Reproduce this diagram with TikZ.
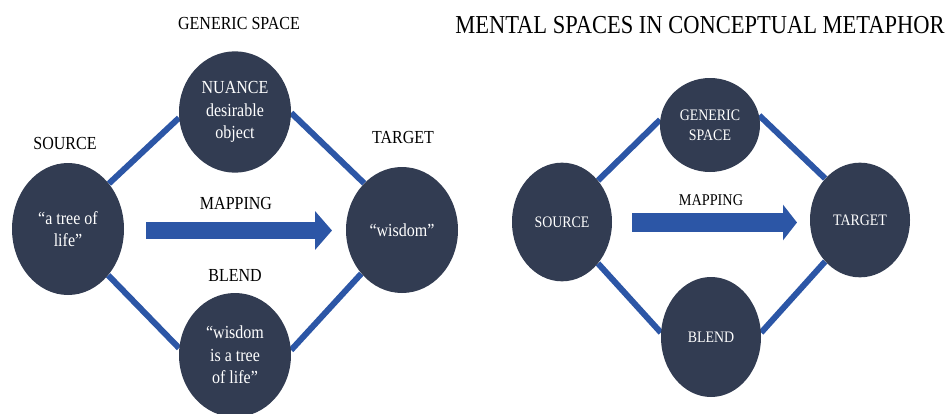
\documentclass[tikz,border=0pt]{standalone}
\usepackage{fontspec}
\setmainfont{Liberation Serif}
\newfontfamily\narrowserif[FakeStretch=0.87]{Liberation Serif}
\usetikzlibrary{shapes.geometric,arrows.meta,backgrounds}
\definecolor{spacefill}{RGB}{50,60,82}
\definecolor{linkblue}{RGB}{44,86,166}
\begin{document}
\begin{tikzpicture}[x=0.75pt,y=-0.75pt,
    space/.style={ellipse,fill=spacefill,text=white,inner sep=0pt,align=center},
    bigspace/.style={space,minimum width=84pt,font=\narrowserif\fontsize{13.8}{17}\selectfont},
    smallspace/.style={space,minimum width=75pt,font=\narrowserif\fontsize{12}{15}\selectfont},
    link/.style={draw=linkblue,line width=4.5pt},
    biglabel/.style={font=\narrowserif\fontsize{13.8}{14}\selectfont},
    smalllabel/.style={font=\narrowserif\fontsize{12.3}{13}\selectfont},
    mapping/.style={draw=linkblue,line width=#1}]
                \useasboundingbox (0,0) rectangle (951,414);
                % left: the worked example
                \node[bigspace,minimum height=99pt] (srcL) at (68,229) {“a tree of\\life”};
                \node[bigspace,minimum height=91pt] (genL) at (235,112) {NUANCE\\desirable\\object};
                \node[bigspace,minimum height=94.5pt] (tgtL) at (402,230) {“wisdom”};
                \node[bigspace,minimum height=93pt] (bldL) at (235,355) {“wisdom\\is a tree\\of life”};
                \node[biglabel] (srcLlab) at (65,143) {SOURCE};
                \node[biglabel] (tgtLlab) at (403,137) {TARGET};
                \node[biglabel] (genLlab) at (239,23) {GENERIC SPACE};
                \node[biglabel] (bldLlab) at (235,276) {BLEND};
                \node[biglabel] (mapLlab) at (236,203) {MAPPING};
                \coordinate (mapLa) at (146,230.5);
                \coordinate (mapLb) at (332,230.5);
                \draw[mapping=12.75pt,-{Triangle[length=12.75pt,width=28.5pt]}] (mapLa) -- (mapLb);
                \begin{scope}[on background layer]
                \draw[link] (srcL.48) -- (genL.186);
                \draw[link] (genL.-1) -- (tgtL.129);
                \draw[link] (srcL.311) -- (bldL.173);
                \draw[link] (bldL.5) -- (tgtL.227);
                \end{scope}
                % right: the general scheme
                \node[font=\narrowserif\fontsize{19.4}{20}\selectfont] (title) at (700,25) {MENTAL SPACES IN CONCEPTUAL METAPHOR};
                \node[smallspace,minimum height=89pt] (srcR) at (562,222) {SOURCE};
                \node[smallspace,minimum height=70.5pt] (genR) at (710,125) {GENERIC\\SPACE};
                \node[smallspace,minimum height=86pt] (tgtR) at (860,220) {TARGET};
                \node[smallspace,minimum height=90pt] (bldR) at (711,337) {BLEND};
                \node[smalllabel] (mapRlab) at (711,200) {MAPPING};
                \coordinate (mapRa) at (632,222.5);
                \coordinate (mapRb) at (797,222.5);
                \draw[mapping=14.25pt,-{Triangle[length=10.5pt,width=26.25pt]}] (mapRa) -- (mapRb);
                \begin{scope}[on background layer]
                \draw[link] (srcR.49) -- (genR.174);
                \draw[link] (genR.11) -- (tgtR.130);
                \draw[link] (srcR.311) -- (bldR.175);
                \draw[link] (bldR.5) -- (tgtR.230);
                \end{scope}
\end{tikzpicture}
\end{document}
